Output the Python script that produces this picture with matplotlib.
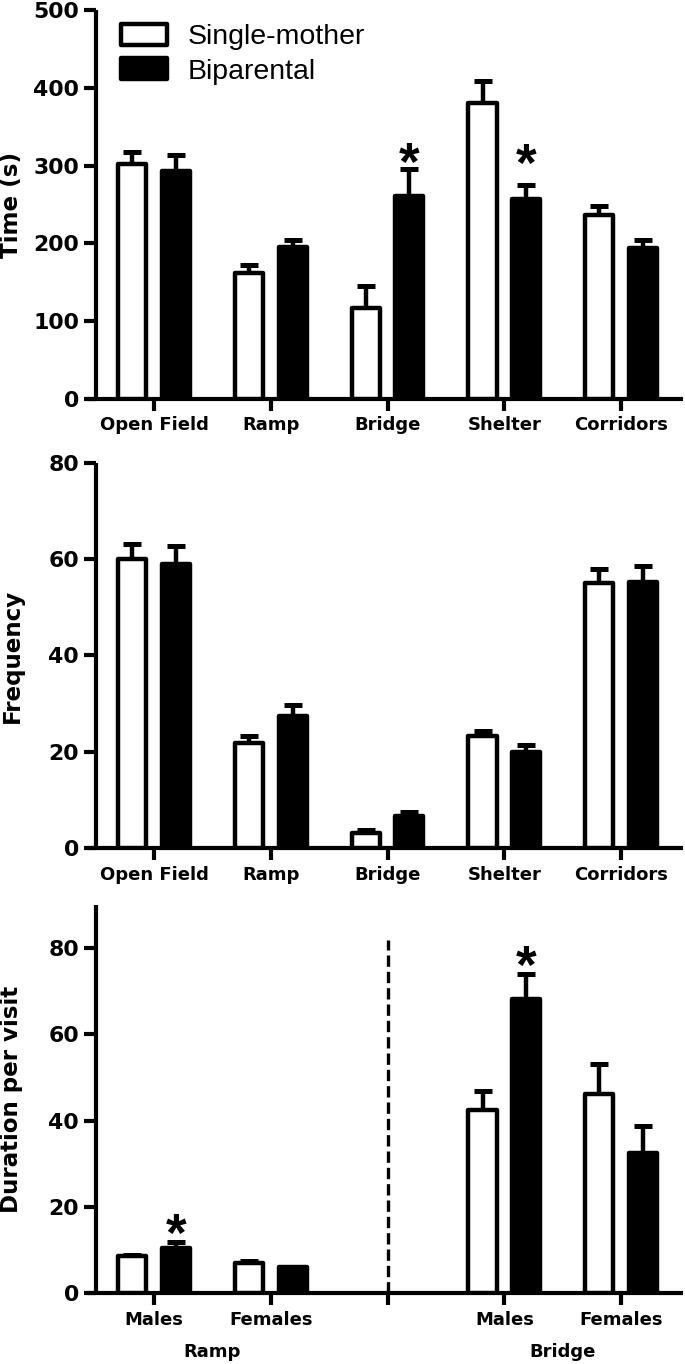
import matplotlib
matplotlib.use("Agg")
import matplotlib.pyplot as plt
import numpy as np
from matplotlib.transforms import blended_transform_factory

plt.rcParams['font.family'] = ['Liberation Sans', 'DejaVu Sans']

# ---------------- data ----------------
zones = ['Open Field', 'Ramp', 'Bridge', 'Shelter', 'Corridors']

time_sm = [302, 162, 117, 381, 236]
time_sm_err = [15, 10, 28, 28, 12]
time_bp = [293, 195, 261, 257, 194]
time_bp_err = [20, 10, 34, 18, 11]
time_star_idx = [2, 3]
time_star_y = [321, 319]

freq_sm = [60.1, 21.9, 3.1, 23.2, 55.1]
freq_sm_err = [3.0, 1.5, 0.7, 1.2, 2.8]
freq_bp = [58.9, 27.4, 6.6, 20.0, 55.3]
freq_bp_err = [3.8, 2.3, 0.9, 1.4, 3.3]

dur_ticklabels = ['Males', 'Females', '', 'Males', 'Females']
dur_groups = ['Ramp', 'Bridge']
dur_sm = [8.7, 7.0, 42.4, 46.2]
dur_sm_err = [0.2, 0.4, 4.4, 7.0]
dur_bp = [10.6, 6.0, 68.2, 32.6]
dur_bp_err = [1.4, 0.2, 5.8, 6.2]
dur_star_idx = [0, 2]
dur_star_y = [16.8, 79]

series_names = ['Single-mother', 'Biparental']

# ---------------- style ----------------
W, H = 685, 1364
LW = 3.2
SPW = 3.0
BW = 0.24
OFF = 0.187
XL = (-0.574, 4.53)
BOLD = ['DejaVu Sans']
TICK_FS = 15.8
XT_FS = 13.0
LAB_FS = 16.6
STAR_FS = 38

fig = plt.figure(figsize=(W / 100, H / 100), dpi=100)


def make_ax(top_px, bottom_px):
    left, right = 87, 683
    return fig.add_axes([left / W, 1 - bottom_px / H, (right - left) / W,
                         (bottom_px - top_px) / H])


def style(ax, ylim, yticks, ylabel):
    ax.set_xlim(*XL)
    ax.set_ylim(*ylim)
    ax.set_yticks(yticks)
    for s in ['top', 'right']:
        ax.spines[s].set_visible(False)
    ax.spines['left'].set_position(('data', -0.5))
    for s in ['left', 'bottom']:
        ax.spines[s].set_linewidth(SPW)
        ax.spines[s].set_capstyle('butt')
    ax.tick_params(axis='both', direction='out', length=8.5, width=SPW)
    ax.tick_params(axis='y', labelsize=TICK_FS, pad=3.5)
    ax.tick_params(axis='x', labelsize=XT_FS, pad=4)
    for lab in ax.get_yticklabels() + ax.get_xticklabels():
        lab.set_fontweight('bold')
        lab.set_family(BOLD)
    ax.set_ylabel(ylabel, fontsize=LAB_FS, fontweight='bold', family=BOLD)
    ax.yaxis.label.set_verticalalignment('center')
    ax.yaxis.set_label_coords(-0.126, 0.5)


def bars(ax, pos, sm, sme, bp, bpe):
    pos = np.asarray(pos, dtype=float)
    kw = dict(width=BW, linewidth=LW, edgecolor='black', zorder=3)
    b1 = ax.bar(pos - OFF, sm, color='white', label=series_names[0], **kw)
    b2 = ax.bar(pos + OFF, bp, color='black', label=series_names[1], **kw)
    for b in list(b1) + list(b2):
        b.set_joinstyle('round')
    ekw = dict(fmt='none', ecolor='black', elinewidth=LW, capsize=6.5,
               capthick=3.6, zorder=2)
    ax.errorbar(pos - OFF, sm, yerr=[np.zeros(len(sm)), sme], **ekw)
    ax.errorbar(pos + OFF, bp, yerr=[np.zeros(len(bp)), bpe], **ekw)
    return b1, b2


def stars(ax, xs, ys, fs=STAR_FS):
    for x, y in zip(xs, ys):
        ax.annotate('*', xy=(x, y), xytext=(0, -0.575 * fs), textcoords='offset points',
                    ha='center', va='baseline', fontsize=fs, fontweight='bold',
                    family=['Liberation Sans'], zorder=5)


# ---------------- panel 1 ----------------
ax1 = make_ax(10, 399)
x = np.arange(len(zones))
bars(ax1, x, time_sm, time_sm_err, time_bp, time_bp_err)
ax1.set_xticks(x)
ax1.set_xticklabels(zones)
style(ax1, (0, 500), np.arange(0, 501, 100), 'Time (s)')
stars(ax1, [x[i] + OFF for i in time_star_idx], time_star_y)
leg = ax1.legend(loc='upper left', bbox_to_anchor=(121 / W, 1 - 24 / H),
                 bbox_transform=fig.transFigure, frameon=False, fontsize=20.5,
                 handlelength=1.6, handleheight=0.74, handletextpad=0.75,
                 labelspacing=0.28, borderpad=0, borderaxespad=0)
for p in leg.get_patches():
    p.set_linewidth(LW)
    p.set_joinstyle('round')

# ---------------- panel 2 ----------------
ax2 = make_ax(462.7, 848.3)
bars(ax2, x, freq_sm, freq_sm_err, freq_bp, freq_bp_err)
ax2.set_xticks(x)
ax2.set_xticklabels(zones)
style(ax2, (0, 80), np.arange(0, 81, 20), 'Frequency')

# ---------------- panel 3 ----------------
ax3 = make_ax(905, 1293.3)
xt = np.arange(len(dur_ticklabels))
dpos = [p for p, l in zip(xt, dur_ticklabels) if l]
bars(ax3, dpos, dur_sm, dur_sm_err, dur_bp, dur_bp_err)
ax3.set_xticks(xt)
ax3.set_xticklabels(dur_ticklabels)
style(ax3, (0, 90), np.arange(0, 81, 20), 'Duration per visit')
ax3.plot([2, 2], [0, 82], color='black', lw=2.4, ls=(0, (3.4, 1.5)), zorder=1)
stars(ax3, [dpos[i] + OFF for i in dur_star_idx], dur_star_y)
tr = blended_transform_factory(ax3.transData, ax3.transAxes)
for gx, g in zip([0.5, 3.5], dur_groups):
    ax3.text(gx, -0.152, g, transform=tr, ha='center', va='center',
             fontsize=XT_FS, fontweight='bold', family=BOLD)

fig.savefig('out.png', dpi=100)
